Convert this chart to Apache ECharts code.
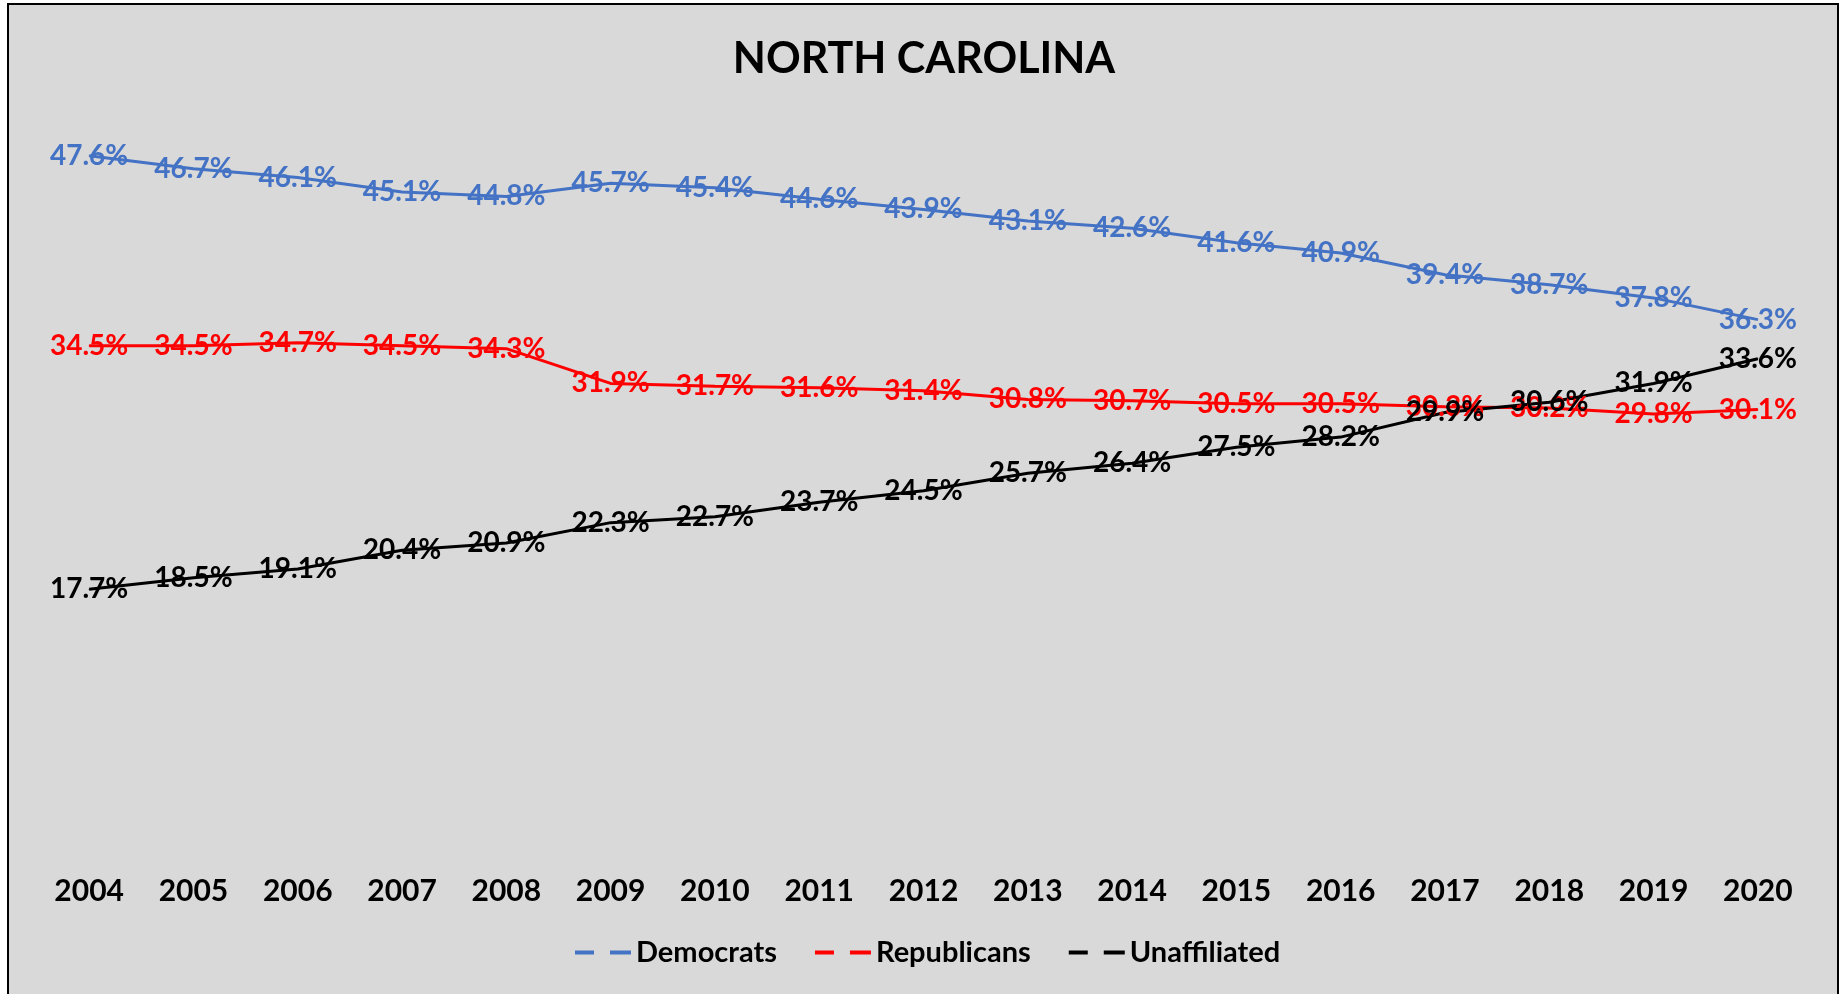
<!DOCTYPE html>
<html>
<head>
<meta charset="utf-8">
<script src="https://cdn.jsdelivr.net/npm/echarts@6/dist/echarts.min.js"></script>
<style>
	html, body { margin: 0; padding: 0; background: #ffffff; overflow: hidden; }
	#nc_chart {
		position: absolute; left: 7px; top: 3px;
		width: 1832px; height: 1000px;
		box-sizing: border-box;
		border: 2px solid #000000;
		background: #d9d9d9;
	}
</style>
</head>
<body>
<div id="nc_chart"></div>
<script>
var years        = ["2004","2005","2006","2007","2008","2009","2010","2011","2012","2013","2014","2015","2016","2017","2018","2019","2020"];
var democrats    = [47.6, 46.7, 46.1, 45.1, 44.8, 45.7, 45.4, 44.6, 43.9, 43.1, 42.6, 41.6, 40.9, 39.4, 38.7, 37.8, 36.3];
var republicans  = [34.5, 34.5, 34.7, 34.5, 34.3, 31.9, 31.7, 31.6, 31.4, 30.8, 30.7, 30.5, 30.5, 30.3, 30.2, 29.8, 30.1];
var unaffiliated = [17.7, 18.5, 19.1, 20.4, 20.9, 22.3, 22.7, 23.7, 24.5, 25.7, 26.4, 27.5, 28.2, 29.9, 30.6, 31.9, 33.6];

var font = "Lato, 'Open Sans', sans-serif";

// line series maker, label sits centred on the point like excel
function makeSeries(name, data, color) {
	return {
		name: name,
		type: 'line',
		data: data,
		symbol: 'circle',
		symbolSize: 1,
		itemStyle: {color: color},
		lineStyle: {color: color, width: 3},
		label: {
			show: true,
			position: 'inside',
			color: color,
			fontFamily: font,
			fontWeight: 'bold',
			fontSize: 28,
			formatter: function(p) { return p.value.toFixed(1) + '%'; }
		},
		emphasis: {disabled: true},
		animation: false
	};
}

var chart = echarts.init(document.getElementById('nc_chart'));

var option = {
	backgroundColor: '#d9d9d9',
	title: {
		text: 'NORTH CAROLINA',
		left: 910,
		textAlign: 'center',
		top: 28,
		textStyle: {fontFamily: font, fontWeight: 'bold', fontSize: 43, color: '#000000'}
	},
	legend: {
		left: 561,
		top: 928,
		itemGap: 38,
		itemWidth: 56,
		itemHeight: 4,
		icon: 'path://M0,0h19v4h-19z M35,0h21v4h-21z',
		textStyle: {fontFamily: font, fontWeight: 'bold', fontSize: 29, color: '#000000'},
		data: ['Democrats', 'Republicans', 'Unaffiliated']
	},
	grid: {
		left: 28,
		right: 27,
		top: 116,
		bottom: 155,
		containLabel: false
	},
	xAxis: {
		type: 'category',
		data: years,
		boundaryGap: true,
		axisLine: {show: false},
		axisTick: {show: false},
		axisLabel: {
			interval: 0,
			margin: 30,
			color: '#000000',
			fontFamily: font,
			fontWeight: 'bold',
			fontSize: 30
		}
	},
	yAxis: {
		type: 'value',
		min: 0,
		max: 50,
		show: false,
		splitLine: {show: false}
	},
	series: [
		makeSeries('Democrats', democrats, '#4472c4'),
		makeSeries('Republicans', republicans, '#ff0000'),
		makeSeries('Unaffiliated', unaffiliated, '#000000')
	]
};

chart.setOption(option);
</script>
</body>
</html>
